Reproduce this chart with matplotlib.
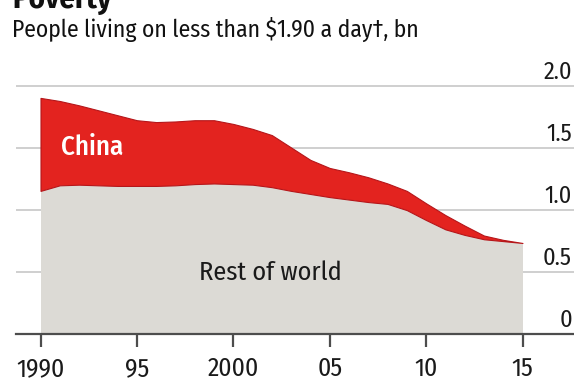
import matplotlib
matplotlib.use("Agg")
import matplotlib.pyplot as plt
import matplotlib.transforms as mtransforms

years = [1990, 1991, 1992, 1993, 1994, 1995, 1996, 1997, 1998, 1999, 2000, 2001, 2002,
         2003, 2004, 2005, 2006, 2007, 2008, 2009, 2010, 2011, 2012, 2013, 2014, 2015]
rest_of_world = [1.15, 1.195, 1.20, 1.195, 1.19, 1.19, 1.19, 1.195, 1.205, 1.21, 1.205, 1.20, 1.18,
                 1.15, 1.125, 1.10, 1.08, 1.06, 1.045, 0.995, 0.915, 0.84, 0.795, 0.76, 0.745, 0.73]
total = [1.90, 1.875, 1.84, 1.80, 1.76, 1.72, 1.705, 1.71, 1.72, 1.72, 1.69, 1.65, 1.60,
         1.50, 1.40, 1.335, 1.30, 1.26, 1.21, 1.15, 1.05, 0.955, 0.87, 0.79, 0.755, 0.73]
xticks = [1990, 1995, 2000, 2005, 2010, 2015]
xticklabels = ["1990", "95", "2000", "05", "10", "15"]
yticks = [0, 0.5, 1.0, 1.5, 2.0]
yticklabels = ["0", "0.5", "1.0", "1.5", "2.0"]

FONT = ["Fira Sans Condensed", "DejaVu Sans"]
plt.rcParams['font.family'] = FONT

W, H = 574, 380
fig = plt.figure(figsize=(W / 100, H / 100), dpi=100)
left_px, right_px, top_px, bottom_px = 16, 574, 70, 333.5
ax = fig.add_axes([left_px / W, 1 - bottom_px / H, (right_px - left_px) / W, (bottom_px - top_px) / H])

# x: 1990 at 40.5px, 2015 at 522.5px
ppy = (522.5 - 40.5) / 25
ax.set_xlim(1990 - (40.5 - left_px) / ppy, 2015 + (right_px - 522.5) / ppy)
ax.set_ylim(0, (bottom_px - top_px) / 124.0)

grid_col = "#cfcfcf"
for v in yticks[1:]:
    ax.axhline(v, color=grid_col, lw=1.4, zorder=0)

ax.fill_between(years, 0, rest_of_world, color="#dcdad5", lw=0, zorder=2)
ax.fill_between(years, rest_of_world, total, facecolor="#e3231f", edgecolor="#b5161a", lw=0.8, zorder=3)

for s in ["left", "right", "top"]:
    ax.spines[s].set_visible(False)
ax.spines["bottom"].set_color("#4d4d4d")
ax.spines["bottom"].set_linewidth(1.6)
ax.spines["bottom"].set_zorder(5)

ax.set_xticks(xticks)
ax.set_xticklabels(xticklabels)
ax.tick_params(axis="x", direction="out", length=9.5, width=1.6, color="#4d4d4d",
               pad=7, labelsize=18.5, labelcolor="#1a1a1a")
ax.set_yticks([])

trans = mtransforms.blended_transform_factory(ax.transAxes, ax.transData)
offset = mtransforms.offset_copy(trans, fig=fig, x=0, y=2, units="dots")
for v, lab in zip(yticks, yticklabels):
    ax.text(1 - 2 / (right_px - left_px), v, lab, transform=offset, ha="right", va="bottom",
            fontsize=17.5, color="#1a1a1a")

ax.text(1992.67, 1.504, "China", color="white", fontsize=19.5, fontweight="medium",
        ha="center", va="center", zorder=6)
ax.text(2001.9, 0.488, "Rest of world", color="#1a1a1a", fontsize=19,
        ha="center", va="center", zorder=6)

fig.text(12 / W, 1 - 8 / H, "Poverty", fontsize=22, fontweight="bold", ha="left",
         va="baseline", color="#111111")
fig.text(12 / W, 1 - 37 / H, "People living on less than $1.90 a day\u2020, bn", fontsize=17,
         ha="left", va="baseline", color="#111111")

fig.savefig("out.png", dpi=100)
